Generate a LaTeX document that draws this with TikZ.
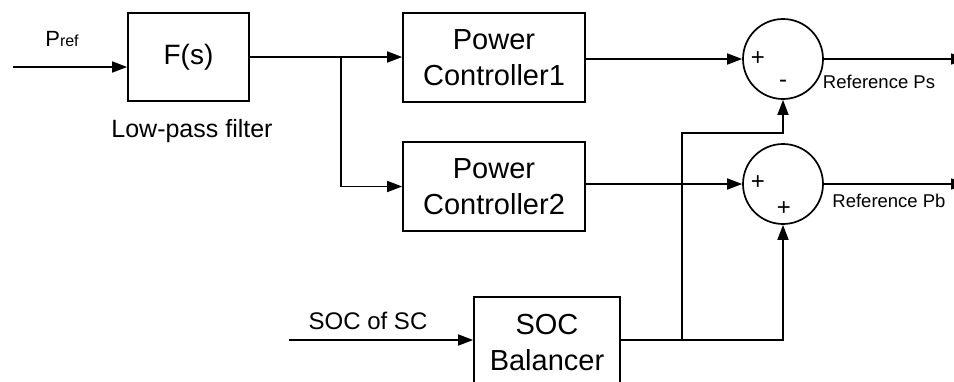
\documentclass[tikz,border=0pt]{standalone}
\usepackage{fontspec}
\setmainfont{Liberation Sans}
\usetikzlibrary{arrows.meta}
\begin{document}
\begin{tikzpicture}[x=1pt,y=-1pt,line width=1.7pt,
  >={Triangle[length=15pt,width=11pt]},
  box/.style={draw,rectangle,inner sep=0pt,align=center,font=\fontsize{29}{36}\selectfont},
  sumc/.style={draw,circle,minimum size=80pt,inner sep=0pt},
  sign/.style={inner sep=0pt,font=\fontsize{24}{24}\selectfont},
  lbl/.style={inner sep=0pt,font=\fontsize{24}{24}\selectfont},
  reflbl/.style={inner sep=0pt,font=\fontsize{18.5}{18.5}\selectfont}]
\useasboundingbox (0,0) rectangle (954,381);
\clip (0,0) rectangle (954,381);
% blocks
\node[box,minimum width=121pt,minimum height=88pt,font=\fontsize{28}{34}\selectfont] (Fs) at (188.5,57) {F(s)};
\node[box,minimum width=182pt,minimum height=89pt] (PC1) at (494,57.5) {Power\\Controller1};
\node[box,minimum width=182pt,minimum height=89pt] (PC2) at (494,186.5) {Power\\Controller2};
\node[box,minimum width=146pt,minimum height=91pt] (SOC) at (547,342.5) {SOC\\Balancer};
\node[sumc] (s1) at (783,59) {};
\node[sumc] (s2) at (783,184) {};
% labels
\node[inner sep=0pt,font=\fontsize{22}{22}\selectfont] (pref) at (62,39) {P{\fontsize{16}{16}\selectfont ref}};
\node[lbl,font=\fontsize{25}{25}\selectfont] (lpf) at (192,131) {Low-pass filter};
\node[lbl] (soclbl) at (368,321) {SOC of SC};
\node[reflbl] (rps) at (879,82) {Reference Ps};
\node[reflbl] (rpb) at (889,201) {Reference Pb};
\node[sign] (p1) at (758,59) {+};
\node[sign] (m1) at (783,84) {-};
\node[sign] (p2) at (758,183) {+};
\node[sign] (p3) at (784,209) {+};
% coordinates
\coordinate (in) at (13,67);
\coordinate (j1) at (341,57);
\coordinate (socin) at (289,340);
\coordinate (j2) at (682,340);
\coordinate (k) at (682,133);
\coordinate (out1) at (966,59);
\coordinate (out2) at (966,184);
% connectors
\draw[->] (in) -- (in -| Fs.west);
\draw (Fs.east |- j1) -- (j1);
\draw[->] (j1) -- (j1 -| PC1.west);
\draw[->] (j1) |- (PC2.west);
\draw[->] (PC1.east |- s1) -- (s1.west);
\draw[->] (PC2.east |- s2) -- (s2.west);
\draw[->] (s1.east) -- (out1);
\draw[->] (s2.east) -- (out2);
\draw[->] (socin) -- (socin -| SOC.west);
\draw (SOC.east |- j2) -- (j2);
\draw[->] (j2) -- (k) -| (s1.south);
\draw[->] (j2) -| (s2.south);
\end{tikzpicture}
\end{document}
